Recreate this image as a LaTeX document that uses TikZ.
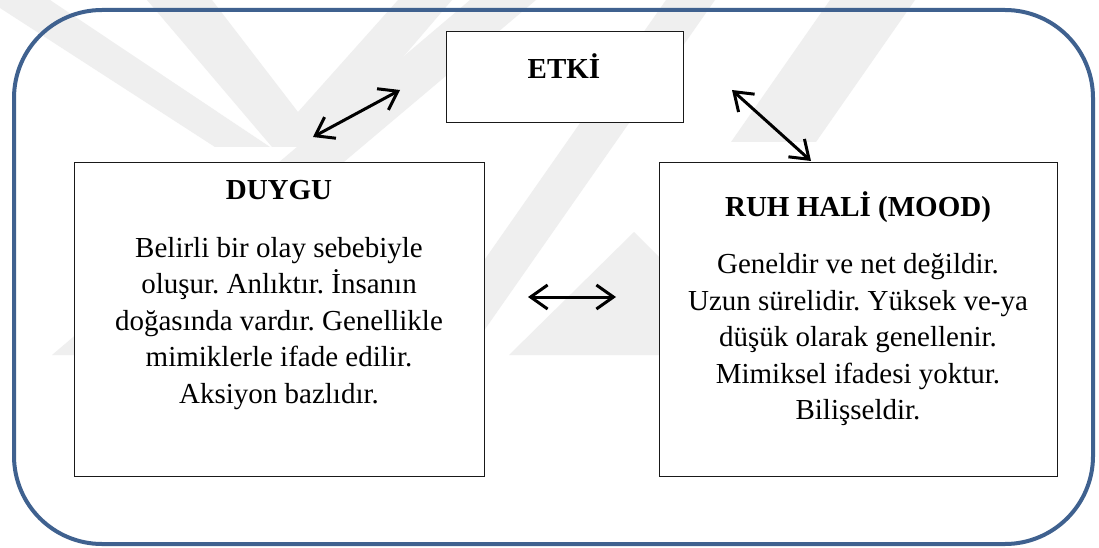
\documentclass[tikz,border=0pt]{standalone}
\usepackage{fontspec}
\newfontfamily\tnr{Liberation Serif}
\usetikzlibrary{arrows.meta}
\definecolor{frameblue}{RGB}{63,97,143}
\definecolor{wmgray}{RGB}{239,239,239}
\begin{document}
\frenchspacing
\begin{tikzpicture}[x=1pt,y=-1pt,
  box/.style={draw=black!90, line width=1.2pt, fill=white},
  boxtitle/.style={font=\tnr\bfseries\fontsize{29}{36.5}\selectfont, anchor=base, inner sep=0pt},
  boxbody/.style={font=\tnr\fontsize{29}{36.5}\selectfont\frenchspacing, align=center, anchor=north, inner sep=0pt},
  link/.style={line width=3pt,
    {Straight Barb[length=17pt,width=24pt]}-{Straight Barb[length=17pt,width=24pt]}},
  wm/.style={fill=wmgray, draw=none}]

% page
\fill[white] (0,0) rectangle (1099,548);
\useasboundingbox (0,0) rectangle (1099,548);

% faint background emblem
\begin{scope}
  \clip (0,0) rectangle (1099,548);
  \fill[wm] (0,0) -- (50,0) -- (270,147) -- (215,147) -- (0,8) -- cycle;
  \fill[wm] (147,0) -- (212,0) -- (298,112) -- (398,0) -- (452,0) -- (326,147) -- (272,147) -- cycle;
  \fill[wm] (52,355) -- (115,355) -- (536,0) -- (470,0) -- cycle;
  \fill[wm] (418,355) -- (467,355) -- (715,0) -- (666,0) -- cycle;
  \fill[wm] (634,232) -- (700,298) -- (700,355) -- (509,355) -- cycle;
  \fill[wm] (731,142) -- (816,142) -- (915,0) -- (830,0) -- cycle;
\end{scope}

% outer frame
\draw[frameblue, line width=4pt, rounded corners=88pt] (14,10) rectangle (1093,544);

% boxes
\node[box, minimum width=237pt, minimum height=91pt, anchor=north west] (etki) at (446,31) {};
\node[box, minimum width=410pt, minimum height=314pt, anchor=north west] (duygu) at (74,162) {};
\node[box, minimum width=398pt, minimum height=314pt, anchor=north west] (ruh) at (659,162) {};

% texts
\node[boxtitle] (etkiT) at (564,79) {ETKİ};
\node[boxtitle] (duyguT) at (279,200) {DUYGU};
\node[boxbody] (duyguB) at (279,231.5) {\strut Belirli bir olay sebebiyle\\ oluşur. Anlıktır. İnsanın\\ doğasında vardır. Genellikle\\ mimiklerle ifade edilir.\\ Aksiyon bazlıdır.};
\node[boxtitle] (ruhT) at (858,216) {RUH HALİ (MOOD)};
\node[boxbody] (ruhB) at (858,248) {\strut Geneldir ve net değildir.\\ Uzun sürelidir. Yüksek ve-ya\\ düşük olarak genellenir.\\ Mimiksel ifadesi yoktur.\\ Bilişseldir.};

% connector ends
\coordinate (d1) at (313,137);
\coordinate (e1) at (400,90);
\coordinate (e2) at (732,90);
\coordinate (r1) at (811,161);
\coordinate (d2) at (528,297);
\coordinate (r2) at (616,297);

\draw[link] (d1) -- (e1);
\draw[link] (e2) -- (r1);
\draw[link] (d2) -- (r2);
\end{tikzpicture}
\end{document}
